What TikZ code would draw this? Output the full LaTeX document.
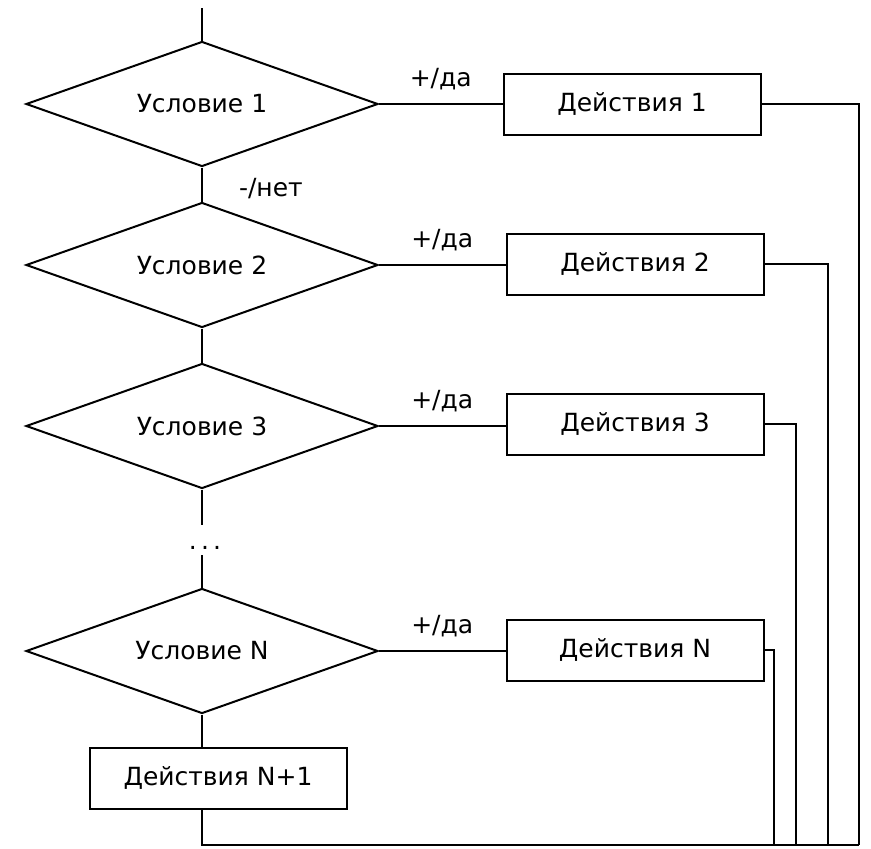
\documentclass[tikz,border=0pt]{standalone}
\usepackage{fontspec}
\setmainfont{DejaVu Sans}
\usetikzlibrary{shapes.geometric}

\begin{document}
\begin{tikzpicture}[x=1pt,y=-1pt,
    line width=2pt,
    every node/.style={font=\fontsize{25}{30}\selectfont},
    cond/.style={draw,diamond,aspect=2.8,minimum width=352pt,minimum height=125pt,inner sep=0pt},
    act/.style={draw,rectangle,minimum width=257pt,minimum height=61pt,inner sep=0pt},
    lbl/.style={inner sep=0pt}]
  \useasboundingbox[fill=white] (0,0) rectangle (871,849);
  % conditions
  \node[cond] (c1) at (202,104) {Условие 1};
  \node[cond] (c2) at (202,265) {Условие 2};
  \node[cond] (c3) at (202,426) {Условие 3};
  \node[cond] (cN) at (202,651) {Условие N};
  \node[lbl] (dots) at (205,548) {.\,.\,.};
  % actions
  \node[act] (a1) at (632,104) {Действия 1};
  \node[act] (a2) at (635,264) {Действия 2};
  \node[act] (a3) at (635,424) {Действия 3};
  \node[act] (aN) at (635,650) {Действия N};
  \node[act] (aN1) at (218,778) {Действия N+1};
  \coordinate (top) at (202,8);
  \coordinate (gap) at (202,525);
  \coordinate (gap2) at (202,555);
  \coordinate (r1) at (859,845);
  \coordinate (r2) at (828,845);
  \coordinate (r3) at (796,845);
  \coordinate (rN) at (774,845);
  % main line
  \draw (top) -- (c1.north);
  \draw (c1.south) -- (c2.north) node[lbl,midway,right=36pt,yshift=-4pt] {-/нет};
  \draw (c2.south) -- (c3.north);
  \draw (c3.south) -- (gap);
  \draw (gap2) -- (cN.north);
  \draw (cN.south) -- (cN.south |- aN1.north);
  % yes branches
  \draw (c1.east) -- (a1.west) node[lbl,midway,yshift=25pt] {+/да};
  \draw (c2.east) -- (c2.east -| a2.west) node[lbl,midway,yshift=25pt] {+/да};
  \draw (c3.east) -- (c3.east -| a3.west) node[lbl,midway,yshift=25pt] {+/да};
  \draw (cN.east) -- (cN.east -| aN.west) node[lbl,midway,yshift=25pt] {+/да};
  % return lines
  \draw (a1.east) -- (a1.east -| r1) -- (r1);
  \draw (a2.east) -- (a2.east -| r2) -- (r2);
  \draw (a3.east) -- (a3.east -| r3) -- (r3);
  \draw (aN.east) -- (aN.east -| rN) -- (rN);
  \draw (aN1.south -| cN.south) -- (r1 -| cN.south) -- (r1);
\end{tikzpicture}
\end{document}
